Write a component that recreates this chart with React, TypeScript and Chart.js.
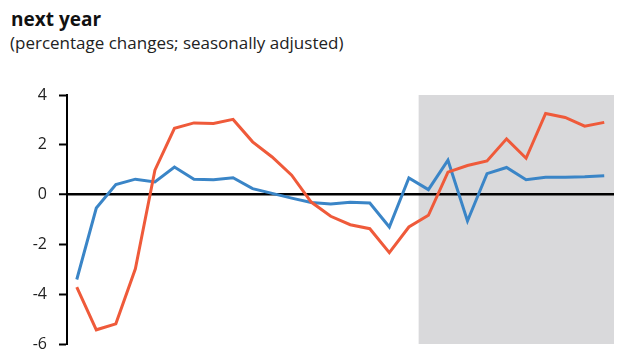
import { useEffect, useRef } from 'react';
import { Chart, registerables } from 'chart.js';

Chart.register(...registerables);

const categories = [
  '2020 Q1', '2020 Q2', '2020 Q3', '2020 Q4',
  '2021 Q1', '2021 Q2', '2021 Q3', '2021 Q4',
  '2022 Q1', '2022 Q2', '2022 Q3', '2022 Q4',
  '2023 Q1', '2023 Q2', '2023 Q3', '2023 Q4',
  '2024 Q1', '2024 Q2', '2024 Q3', '2024 Q4',
  '2025 Q1', '2025 Q2', '2025 Q3', '2025 Q4',
  '2026 Q1', '2026 Q2', '2026 Q3', '2026 Q4',
];

const blueSeries = [
  -3.41, -0.54, 0.4, 0.62, 0.51, 1.11, 0.62, 0.6,
  0.68, 0.24, 0.05, -0.14, -0.32, -0.38, -0.31, -0.34,
  -1.3, 0.67, 0.2, 1.38, -1.06, 0.84, 1.09, 0.6,
  0.7, 0.7, 0.72, 0.76,
];

const redSeries = [
  -3.72, -5.43, -5.19, -2.98, 0.98, 2.66, 2.88, 2.86,
  3.02, 2.12, 1.51, 0.78, -0.3, -0.87, -1.21, -1.37,
  -2.33, -1.3, -0.83, 0.9, 1.17, 1.35, 2.24, 1.46,
  3.26, 3.1, 2.75, 2.9,
];

const yTickValues = [-6, -4, -2, 0, 2, 4];
const projectionStart = '2024 Q3';

const titleText = 'next year';
const subtitleText = '(percentage changes; seasonally adjusted)';

const shadePlugin = {
  id: 'projectionShade',
  beforeDraw(chart: any) {
    const x = chart.scales.x;
    const { top, bottom, right } = chart.chartArea;
    const idx = categories.indexOf(projectionStart);
    const half = (x.getPixelForValue(1) - x.getPixelForValue(0)) / 2;
    const left = x.getPixelForValue(idx) - half;
    const ctx = chart.ctx;
    ctx.save();
    ctx.fillStyle = '#d9d9db';
    ctx.fillRect(left, top, right - left, bottom - top);
    ctx.restore();
  },
};

export default function App() {
  const ref = useRef<HTMLCanvasElement | null>(null);

  useEffect(() => {
    document.body.style.margin = '0';
    if (!ref.current) return;
    const chart = new Chart(ref.current, {
      type: 'line',
      data: {
        labels: categories,
        datasets: [
          {
            label: 'Series A',
            data: redSeries,
            borderColor: '#ef5a3a',
            borderWidth: 3,
            pointRadius: 0,
            tension: 0,
            fill: false,
          },
          {
            label: 'Series B',
            data: blueSeries,
            borderColor: '#3a85c7',
            borderWidth: 3,
            pointRadius: 0,
            tension: 0,
            fill: false,
          },
        ],
      },
      options: {
        animation: false,
        responsive: false,
        layout: { padding: { top: 95, right: 26, bottom: 16, left: 0 } },
        plugins: {
          legend: { display: false },
          tooltip: { enabled: false },
          title: { display: false },
        },
        scales: {
          x: {
            type: 'category',
            display: false,
            offset: true,
            grid: { display: false },
          },
          y: {
            min: -6,
            max: 4,
            afterBuildTicks: (scale: any) => {
              scale.ticks = yTickValues.map((v) => ({ value: v }));
            },
            afterFit: (scale: any) => {
              scale.width = 67;
              scale.paddingTop = 0;
              scale.paddingBottom = 0;
            },
            border: { display: true, color: '#000', width: 2 },
            grid: {
              drawOnChartArea: true,
              color: (ctx: any) => (ctx.tick && ctx.tick.value === 0 ? '#000' : 'rgba(0,0,0,0)'),
              lineWidth: (ctx: any) => (ctx.tick && ctx.tick.value === 0 ? 2.5 : 1),
              tickColor: '#000',
              tickWidth: 2,
              tickLength: 8,
            },
            ticks: {
              padding: 12,
              color: '#222',
              font: { family: 'Open Sans', size: 16 },
            },
          },
        },
      },
      plugins: [shadePlugin],
    });
    return () => chart.destroy();
  }, []);

  return (
    <div style={{ position: 'absolute', left: 0, top: 0, width: 640, height: 360, background: '#fff', overflow: 'hidden' }}>
      <div
        style={{
          position: 'absolute', left: 11, top: 10, fontFamily: 'Open Sans', fontWeight: 700,
          fontSize: 19, lineHeight: '19px', color: '#111', whiteSpace: 'nowrap',
        }}
      >
        {titleText}
      </div>
      <div
        style={{
          position: 'absolute', left: 10, top: 34, fontFamily: 'Open Sans', fontWeight: 400,
          fontSize: 17, lineHeight: '17px', color: '#222', whiteSpace: 'nowrap',
        }}
      >
        {subtitleText}
      </div>
      <canvas ref={ref} width={640} height={360} style={{ position: 'absolute', left: 0, top: 0, width: 640, height: 360 }} />
    </div>
  );
}
